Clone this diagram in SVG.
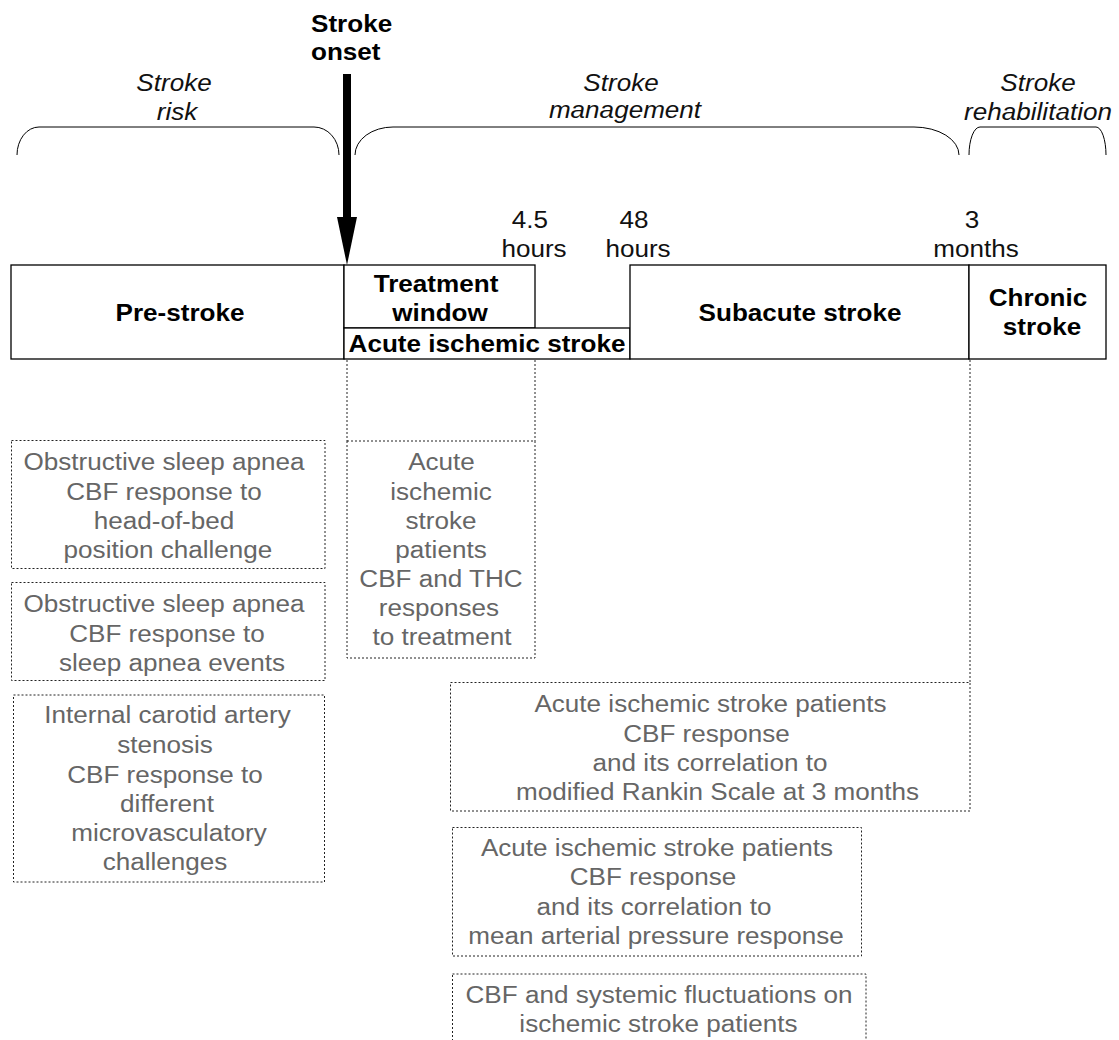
<svg xmlns="http://www.w3.org/2000/svg" width="1119" height="1040" viewBox="0 0 1119 1040">
<style>
text{font-family:"Liberation Sans",Arial,sans-serif;font-size:23.3px;text-anchor:middle}
.h{font-weight:bold;fill:#000}
.o{font-weight:bold;fill:#000;text-anchor:start}
.it{font-style:italic;fill:#111}
.t{fill:#111}
.g{fill:#666}
.box{fill:#fff;stroke:#000;stroke-width:1.3}
.dot{fill:none;stroke:#222;stroke-width:1;stroke-dasharray:2,2}
.brace{fill:none;stroke:#000;stroke-width:1}
</style>
<rect width="1119" height="1040" fill="#fff"/>
<g id="braces">
<path class="brace" d="M17,155 A22,28 0 0 1 39,127 L314,127 A25,28 0 0 1 339,155"/>
<path class="brace" d="M355,155 A38,28 0 0 1 393,127 L914,127 A45,28 0 0 1 959,155"/>
<path class="brace" d="M969,155 A11,28 0 0 1 980,127 L1096,127 A10,28 0 0 1 1106,155"/>
</g>
<g id="phase-labels">
<text class="it" transform="translate(174,91) scale(1.12,1)">Stroke</text>
<text class="it" transform="translate(177,120) scale(1.12,1)">risk</text>
<text class="it" transform="translate(621,91) scale(1.12,1)">Stroke</text>
<text class="it" transform="translate(625,118) scale(1.12,1)">management</text>
<text class="it" transform="translate(1038,91) scale(1.12,1)">Stroke</text>
<text class="it" transform="translate(1038,120) scale(1.12,1)">rehabilitation</text>
</g>
<g id="onset">
<text class="o" transform="translate(311,31.5) scale(1.12,1)">Stroke</text>
<text class="o" transform="translate(311,60) scale(1.12,1)">onset</text>
<rect x="343" y="74" width="8" height="145" fill="#000"/>
<polygon points="337,217 357,217 347,265" fill="#000"/>
</g>
<g id="timepoints">
<text class="t" transform="translate(530,228) scale(1.12,1)">4.5</text>
<text class="t" transform="translate(534,257) scale(1.12,1)">hours</text>
<text class="t" transform="translate(634,228) scale(1.12,1)">48</text>
<text class="t" transform="translate(638,257) scale(1.12,1)">hours</text>
<text class="t" transform="translate(972,228) scale(1.12,1)">3</text>
<text class="t" transform="translate(976,257) scale(1.12,1)">months</text>
</g>
<g id="connectors">
<line class="dot" x1="347" y1="360" x2="347" y2="441"/>
<line class="dot" x1="535" y1="360" x2="535" y2="441"/>
<line class="dot" x1="970" y1="360" x2="970" y2="682"/>
</g>
<g id="pre-stroke">
<rect class="box" x="11" y="265" width="333" height="94"/>
<text class="h" transform="translate(180,321) scale(1.12,1)">Pre-stroke</text>
</g>
<g id="treatment-window">
<rect class="box" x="344" y="265" width="191" height="63"/>
<text class="h" transform="translate(436,292) scale(1.12,1)">Treatment</text>
<text class="h" transform="translate(440,321) scale(1.12,1)">window</text>
</g>
<g id="acute-ischemic-stroke">
<rect class="box" x="344" y="328" width="286" height="31"/>
<text class="h" transform="translate(487,352) scale(1.12,1)">Acute ischemic stroke</text>
</g>
<g id="subacute-stroke">
<rect class="box" x="630" y="265" width="339" height="94"/>
<text class="h" transform="translate(800,321) scale(1.12,1)">Subacute stroke</text>
</g>
<g id="chronic-stroke">
<rect class="box" x="969" y="265" width="137" height="94"/>
<text class="h" transform="translate(1038,306) scale(1.12,1)">Chronic</text>
<text class="h" transform="translate(1042,335) scale(1.12,1)">stroke</text>
</g>
<g id="study-osa-hob">
<rect class="dot" x="11.5" y="440.5" width="313.5" height="128"/>
<text class="g" transform="translate(164,470) scale(1.12,1)">Obstructive sleep apnea</text>
<text class="g" transform="translate(164,499.5) scale(1.12,1)">CBF response to</text>
<text class="g" transform="translate(164,528.5) scale(1.12,1)">head-of-bed</text>
<text class="g" transform="translate(168,558) scale(1.12,1)">position challenge</text>
</g>
<g id="study-osa-events">
<rect class="dot" x="11.5" y="582.5" width="313.5" height="98"/>
<text class="g" transform="translate(164,612) scale(1.12,1)">Obstructive sleep apnea</text>
<text class="g" transform="translate(167,641.5) scale(1.12,1)">CBF response to</text>
<text class="g" transform="translate(172,671) scale(1.12,1)">sleep apnea events</text>
</g>
<g id="study-ica">
<rect class="dot" x="13.5" y="695" width="311" height="187"/>
<text class="g" transform="translate(167.5,723) scale(1.12,1)">Internal carotid artery</text>
<text class="g" transform="translate(165,753) scale(1.12,1)">stenosis</text>
<text class="g" transform="translate(165,782.5) scale(1.12,1)">CBF response to</text>
<text class="g" transform="translate(167,811.5) scale(1.12,1)">different</text>
<text class="g" transform="translate(169,841) scale(1.12,1)">microvasculatory</text>
<text class="g" transform="translate(165,870) scale(1.12,1)">challenges</text>
</g>
<g id="study-ais-treatment">
<rect class="dot" x="347" y="441" width="188" height="217"/>
<text class="g" transform="translate(441.5,470) scale(1.12,1)">Acute</text>
<text class="g" transform="translate(441,499.5) scale(1.12,1)">ischemic</text>
<text class="g" transform="translate(441,528.5) scale(1.12,1)">stroke</text>
<text class="g" transform="translate(441,557.5) scale(1.12,1)">patients</text>
<text class="g" transform="translate(441,587) scale(1.12,1)">CBF and THC</text>
<text class="g" transform="translate(439,616) scale(1.12,1)">responses</text>
<text class="g" transform="translate(442,645) scale(1.12,1)">to treatment</text>
</g>
<g id="study-ais-mrs">
<rect class="dot" x="450.5" y="682.5" width="519.5" height="128.5"/>
<text class="g" transform="translate(710.5,711.5) scale(1.12,1)">Acute ischemic stroke patients</text>
<text class="g" transform="translate(706.5,741.5) scale(1.12,1)">CBF response</text>
<text class="g" transform="translate(710,771) scale(1.12,1)">and its correlation to</text>
<text class="g" transform="translate(717.5,800) scale(1.12,1)">modified Rankin Scale at 3 months</text>
</g>
<g id="study-ais-map">
<rect class="dot" x="452.5" y="827.5" width="409" height="128.5"/>
<text class="g" transform="translate(657,856) scale(1.12,1)">Acute ischemic stroke patients</text>
<text class="g" transform="translate(653,885) scale(1.12,1)">CBF response</text>
<text class="g" transform="translate(654,914.5) scale(1.12,1)">and its correlation to</text>
<text class="g" transform="translate(656,943.5) scale(1.12,1)">mean arterial pressure response</text>
</g>
<g id="study-fluctuations">
<rect class="dot" x="452.5" y="974" width="413.5" height="90"/>
<text class="g" transform="translate(659,1002.5) scale(1.12,1)">CBF and systemic fluctuations on</text>
<text class="g" transform="translate(658.5,1031.5) scale(1.12,1)">ischemic stroke patients</text>
</g>
</svg>
